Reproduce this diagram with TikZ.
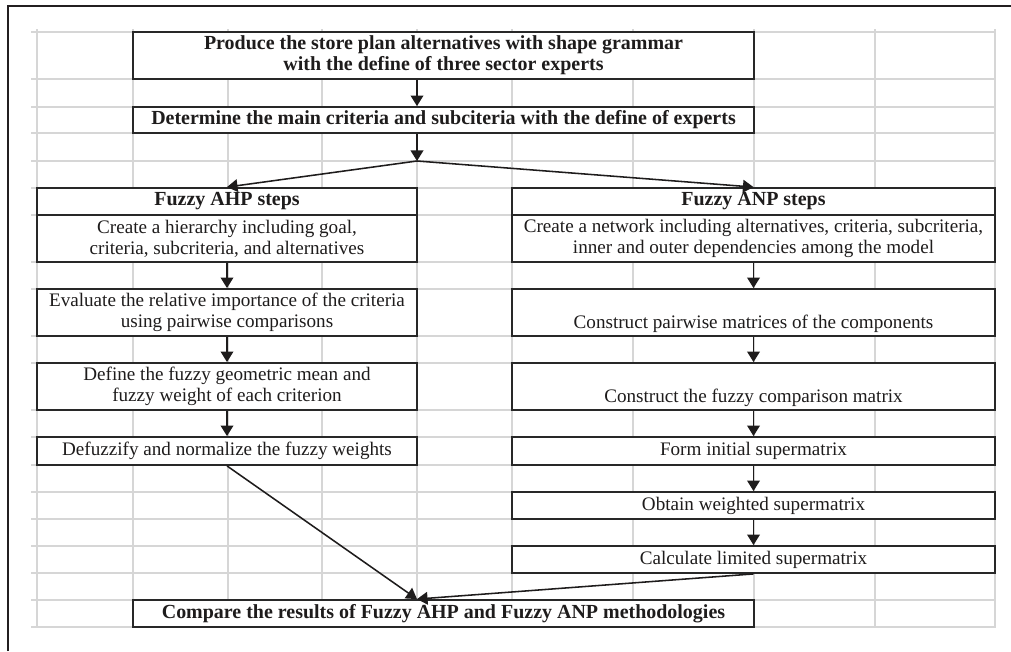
\documentclass[tikz,border=0pt]{standalone}
\usepackage{fontspec}
\setmainfont{Liberation Serif}
\usepackage{tikz}
\usetikzlibrary{
    arrows.meta
}
\definecolor{gridline}{RGB}{214,214,214}
\definecolor{frameline}{RGB}{35,31,32}
\definecolor{boxline}{RGB}{40,40,40}
\definecolor{inktext}{RGB}{30,28,28}

\begin{document}
\begin{tikzpicture}[x=0.025cm, y=-0.025cm,
    stepbox/.style={draw=boxline, line width=1.3pt, fill=white, inner sep=0pt,
        align=center, text=inktext, font=\fontsize{13.6}{15}\selectfont},
    headbox/.style={stepbox, font=\fontsize{14.2}{15}\selectfont\bfseries},
    flow/.style={-{Triangle[width=9pt,length=7.5pt]}, line width=1.1pt, draw=inktext}]
    % Page size
    \useasboundingbox (0,0) rectangle (1011,651);

    % Frame
    \draw[frameline, line width=2pt] (8,651) -- (8,6) -- (1011,6);

    % Spreadsheet grid
    \foreach \y in {32,79,107,133,161,188,215,262,289,336,363,410,437,465,492,519,546,573,600,627}
        \draw[gridline, line width=1pt] (31,\y) -- (995,\y);
    \foreach \x in {37,133,228,322,417,512,633,754,875,995}
        \draw[gridline, line width=1pt] (\x,29) -- (\x,628);

    % Common steps
    \node[headbox, minimum width=15.525cm, minimum height=1.175cm] (plan) at (443.5,55.5)
        {Produce the store plan alternatives with shape grammar\\with the define of three sector experts};
    \node[headbox, minimum width=15.525cm, minimum height=0.65cm] (crit) at (443.5,120)
        {Determine the main criteria and subciteria with the define of experts};
    \coordinate (split) at (417,161);

    % Fuzzy AHP column
    \node[headbox, minimum width=9.5cm, minimum height=0.675cm] (ahphead) at (227,201.5) {Fuzzy AHP steps};
    \node[stepbox, minimum width=9.5cm, minimum height=1.175cm] (ahp1) at (227,238.5)
        {Create a hierarchy including goal,\\criteria, subcriteria, and alternatives};
    \node[stepbox, minimum width=9.5cm, minimum height=1.175cm] (ahp2) at (227,312.5)
        {Evaluate the relative importance of the criteria\\using pairwise comparisons};
    \node[stepbox, minimum width=9.5cm, minimum height=1.175cm] (ahp3) at (227,386.5)
        {Define the fuzzy geometric mean and\\fuzzy weight of each criterion};
    \node[stepbox, minimum width=9.5cm, minimum height=0.7cm] (ahp4) at (227,451)
        {Defuzzify and normalize the fuzzy weights};

    % Fuzzy ANP column
    \node[headbox, minimum width=12.075cm, minimum height=0.675cm] (anphead) at (753.5,201.5) {Fuzzy ANP steps};
    \node[stepbox, minimum width=12.075cm, minimum height=1.175cm] (anp1) at (753.5,238.5)
        {Create a network including alternatives, criteria, subcriteria,\\inner and outer dependencies among the model};
    \node[stepbox, minimum width=12.075cm, minimum height=1.175cm] (anp2) at (753.5,312.5)
        {\strut\\Construct pairwise matrices of the components};
    \node[stepbox, minimum width=12.075cm, minimum height=1.175cm] (anp3) at (753.5,386.5)
        {\strut\\Construct the fuzzy comparison matrix};
    \node[stepbox, minimum width=12.075cm, minimum height=0.7cm] (anp4) at (753.5,451)
        {Form initial supermatrix};
    \node[stepbox, minimum width=12.075cm, minimum height=0.675cm] (anp5) at (753.5,505.5)
        {Obtain weighted supermatrix};
    \node[stepbox, minimum width=12.075cm, minimum height=0.675cm] (anp6) at (753.5,559.5)
        {Calculate limited supermatrix};

    % Comparison
    \node[headbox, minimum width=15.525cm, minimum height=0.675cm] (final) at (443.5,613.5)
        {Compare the results of Fuzzy AHP and Fuzzy ANP methodologies};

    % Arrows
    \draw[flow] (plan.south -| split) -- (crit.north -| split);
    \draw[flow] (crit.south -| split) -- (split);
    \draw[flow] (split) -- (ahphead.north);
    \draw[flow] (split) -- (anphead.north);
    \foreach \a/\b in {ahp1/ahp2, ahp2/ahp3, ahp3/ahp4, anp1/anp2, anp2/anp3, anp3/anp4, anp4/anp5, anp5/anp6}
        \draw[flow] (\a.south) -- (\b.north);
    \draw[flow] (ahp4.south) -- (final.north -| split);
    \draw[flow] (anp6.south) -- (final.north -| split);
\end{tikzpicture}
\end{document}
